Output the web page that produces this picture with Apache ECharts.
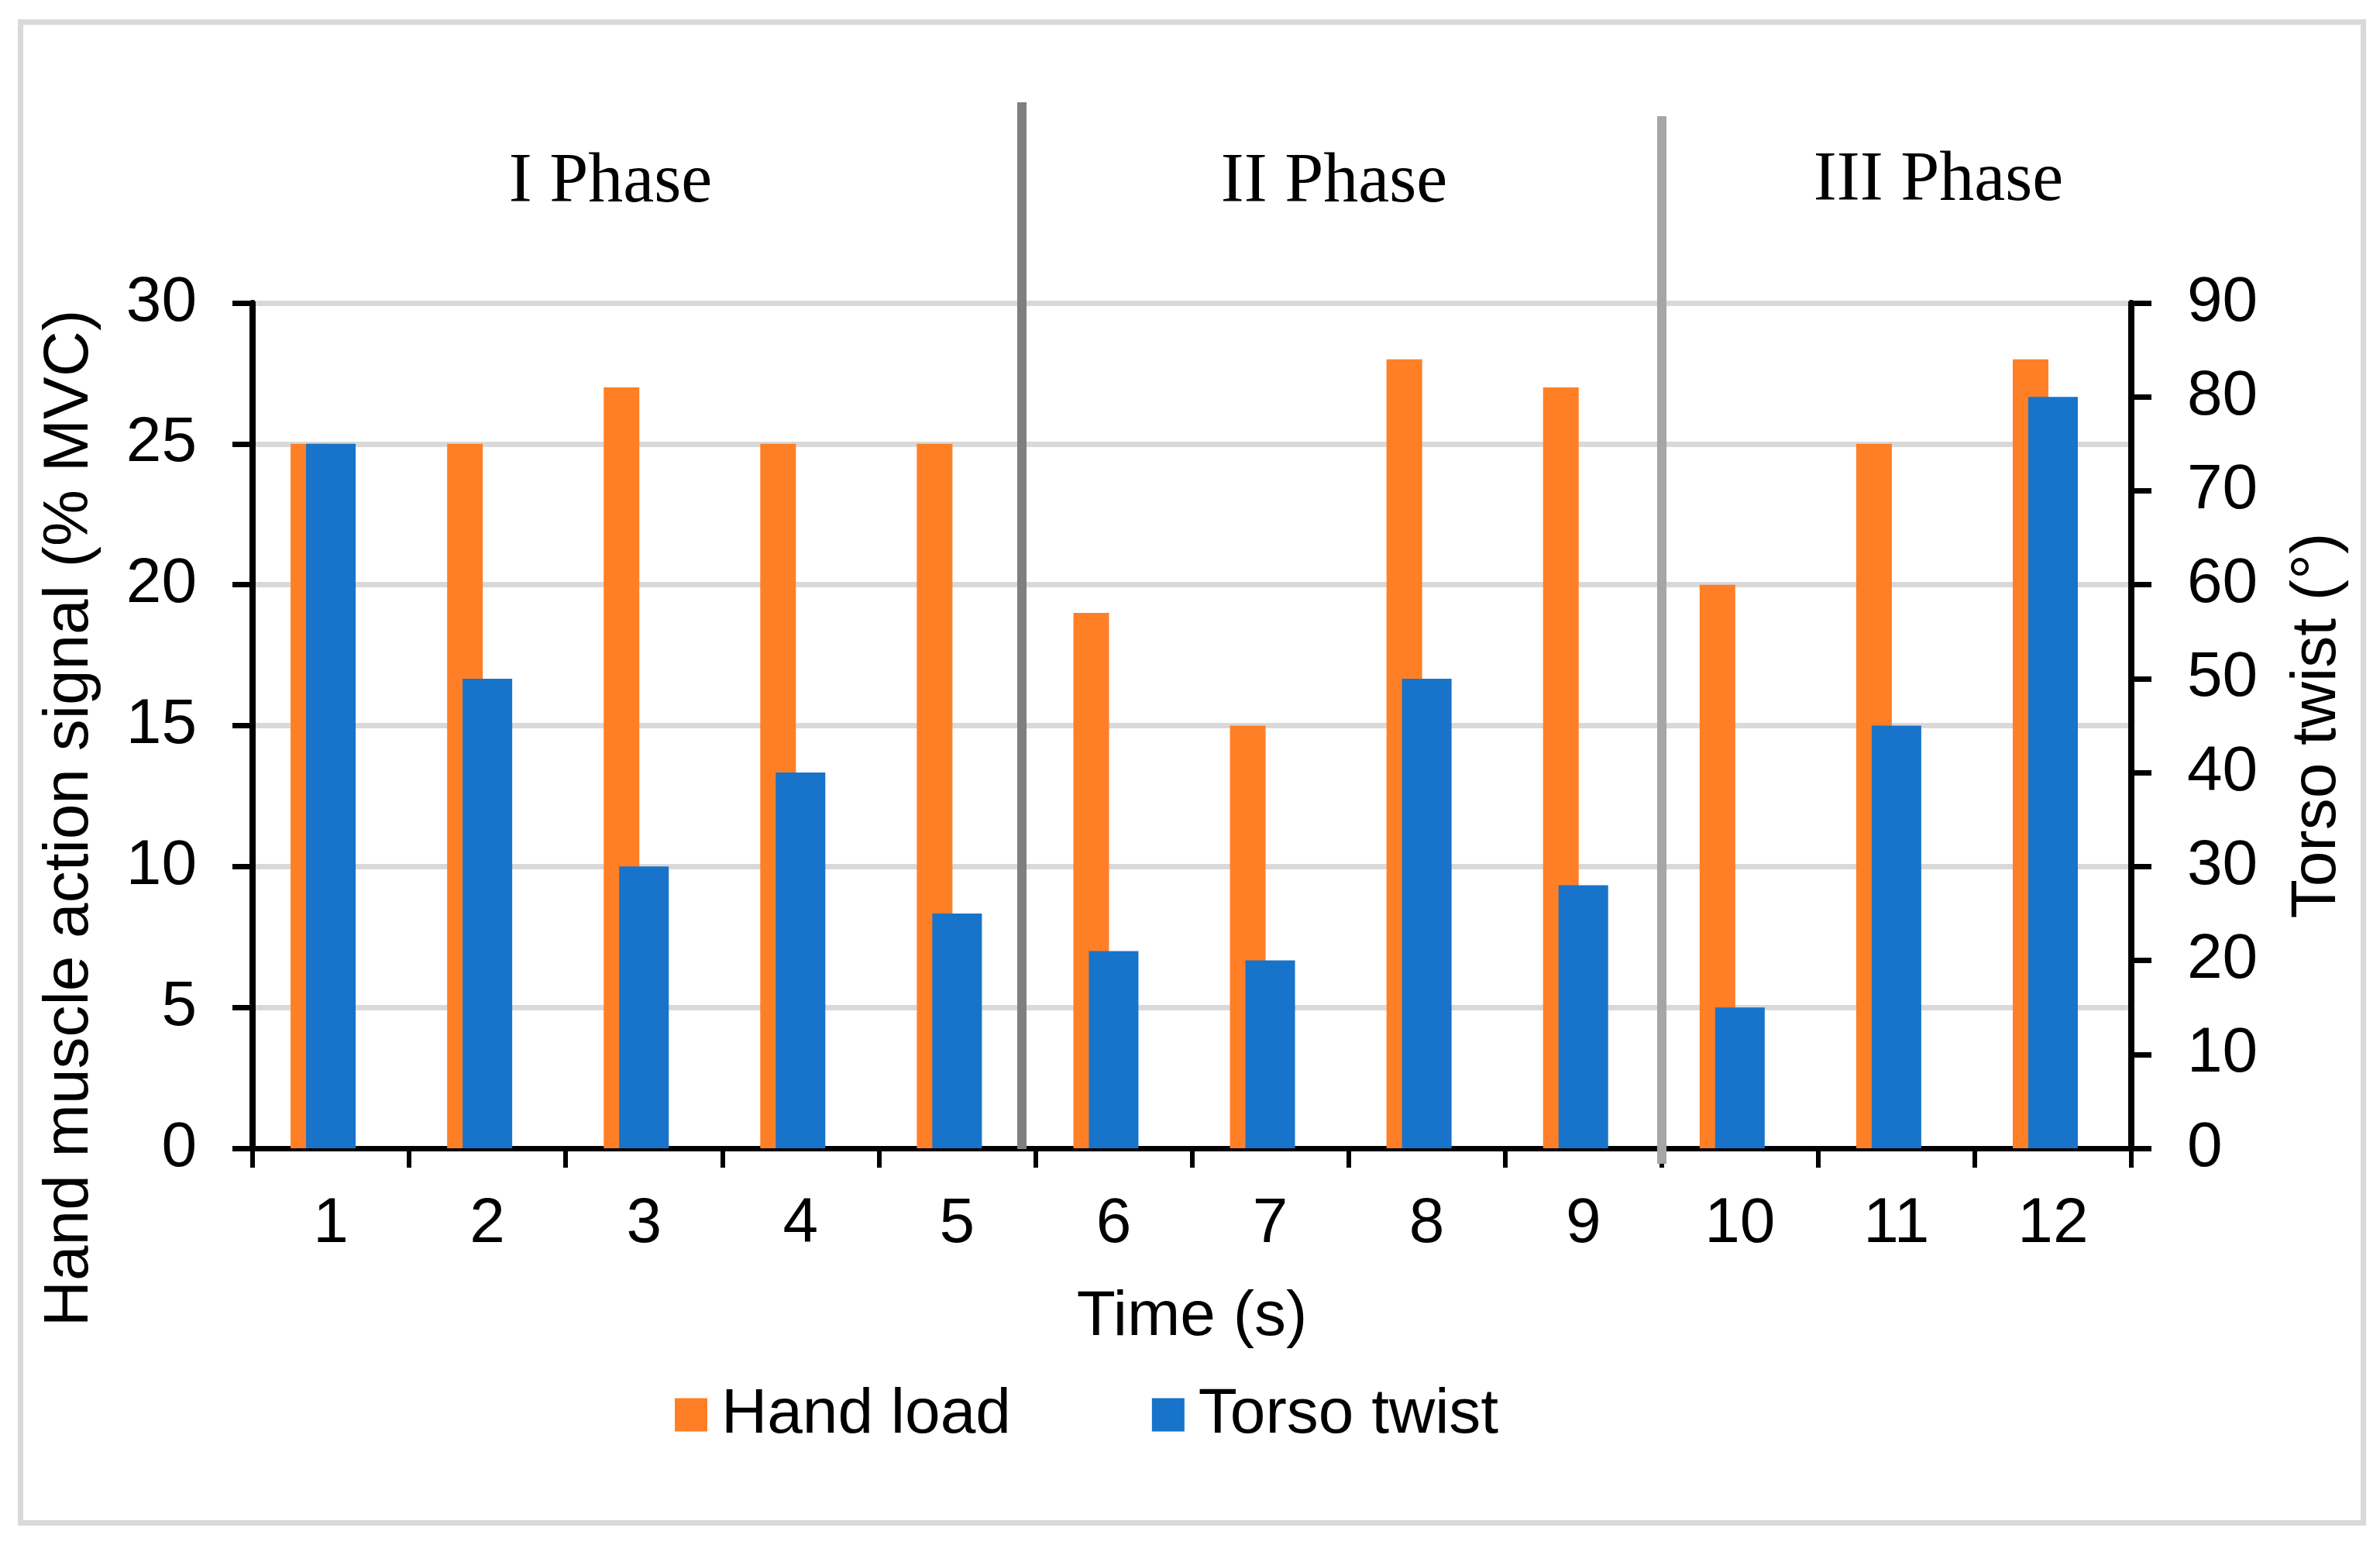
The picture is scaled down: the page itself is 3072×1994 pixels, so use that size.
<!DOCTYPE html>
<html>
<head>
<meta charset="utf-8">
<script src="https://cdn.jsdelivr.net/npm/echarts@6/dist/echarts.min.js"></script>
<style>
html,body{margin:0;padding:0;background:#ffffff;}
#chart{width:3072px;height:1994px;}
</style>
</head>
<body>
<div id="chart"></div>
<script>
// ---- data ----
const categories = ['1','2','3','4','5','6','7','8','9','10','11','12'];
const handLoad   = [25, 25, 27, 25, 25, 19, 15, 28, 27, 20, 25, 28];   // % MVC (left axis)
const torsoTwist = [75, 50, 30, 40, 25, 21, 20, 50, 28, 15, 45, 80];   // degrees (right axis)
const leftAxisMin = 0, leftAxisMax = 30, leftAxisStep = 5;
const rightAxisMin = 0, rightAxisMax = 90, rightAxisStep = 10;
const phaseLabels = ['I Phase', 'II Phase', 'III Phase'];
const seriesNames = ['Hand load', 'Torso twist'];
const axisTitles = { x: 'Time (s)', left: 'Hand muscle action signal (% MVC)', right: 'Torso twist (°)' };

// ---- layout / style ----
const SANS = "'Liberation Sans', Arial, Helvetica, sans-serif";
const SERIF = "'Liberation Serif', 'Times New Roman', serif";
const FS = 82;
const ORANGE = '#FF7F27';
const BLUE = '#1873CA';
const phaseX = [788, 1722, 2502];
const phaseY = [236, 236, 234];
const dividers = [
  { x: 1319, y1: 132, y2: 1483, color: '#7f7f7f' },
  { x: 2145, y1: 150, y2: 1502, color: '#a6a6a6' }
];

const chart = echarts.init(document.getElementById('chart'), null, { renderer: 'canvas' });

const axisLabelBase = { color: '#000', fontFamily: SANS, fontSize: FS, lineHeight: FS, margin: 72 };

const option = {
  backgroundColor: '#ffffff',
  animation: false,
  grid: { left: 326, right: 321, top: 391, bottom: 512, containLabel: false, outerBoundsMode: 'none' },
  legend: {
    data: seriesNames,
    left: 866,
    top: 1780,
    orient: 'horizontal',
    itemWidth: 42,
    itemHeight: 43,
    itemGap: 182,
    icon: 'rect',
    selectedMode: false,
    textStyle: { color: '#000', fontFamily: SANS, fontSize: FS, lineHeight: FS, padding: [0, 0, 0, 13] }
  },
  xAxis: [
    {
      type: 'category',
      data: categories,
      position: 'bottom',
      boundaryGap: true,
      axisLine: { show: true, lineStyle: { color: '#000', width: 7 } },
      axisTick: { show: true, length: 25, lineStyle: { color: '#000', width: 6 } },
      axisLabel: Object.assign({}, axisLabelBase, { margin: 57 }),
      splitLine: { show: false },
      name: axisTitles.x,
      nameLocation: 'middle',
      nameGap: 177,
      nameTextStyle: { color: '#000', fontFamily: SANS, fontSize: FS, lineHeight: FS }
    },
    {
      type: 'category',
      data: categories,
      position: 'bottom',
      show: false
    }
  ],
  yAxis: [
    {
      type: 'value',
      min: leftAxisMin, max: leftAxisMax, interval: leftAxisStep,
      position: 'left',
      axisLine: { show: true, lineStyle: { color: '#000', width: 8 } },
      axisTick: { show: true, length: 26, lineStyle: { color: '#000', width: 7 } },
      axisLabel: axisLabelBase,
      splitLine: { show: true, lineStyle: { color: '#d9d9d9', width: 7 } }
    },
    {
      type: 'value',
      min: rightAxisMin, max: rightAxisMax, interval: rightAxisStep,
      position: 'right',
      axisLine: { show: true, lineStyle: { color: '#000', width: 8 } },
      axisTick: { show: true, length: 26, lineStyle: { color: '#000', width: 7 } },
      axisLabel: axisLabelBase,
      splitLine: { show: false },
      name: axisTitles.right,
      nameLocation: 'middle',
      nameRotate: 90,
      nameGap: 199,
      nameTextStyle: { color: '#000', fontFamily: SANS, fontSize: FS, lineHeight: FS }
    }
  ],
  series: [
    {
      name: seriesNames[0],
      type: 'bar',
      xAxisIndex: 0, yAxisIndex: 0,
      data: handLoad,
      barWidth: 46,
      barGap: '26%',
      itemStyle: { color: ORANGE },
      emphasis: { disabled: true }
    },
    {
      name: '_spacer',
      type: 'bar',
      xAxisIndex: 0, yAxisIndex: 0,
      data: [],
      barWidth: 46,
      barGap: '26%',
      silent: true
    },
    {
      name: seriesNames[1],
      type: 'bar',
      xAxisIndex: 1, yAxisIndex: 1,
      data: torsoTwist,
      barWidth: 64,
      itemStyle: { color: BLUE },
      emphasis: { disabled: true }
    }
  ],
  graphic: [
    {
      type: 'rect', silent: true, z: 100,
      shape: { x: 26.5, y: 28.5, width: 3024, height: 1937 },
      style: { fill: 'none', stroke: '#d9d9d9', lineWidth: 7 }
    },
    ...dividers.map(d => ({
      type: 'line', silent: true, z: 50,
      shape: { x1: d.x, y1: d.y1, x2: d.x, y2: d.y2 },
      style: { stroke: d.color, lineWidth: 12 }
    })),
    ...phaseLabels.map((t, i) => ({
      type: 'text', silent: true, z: 60,
      x: phaseX[i], y: phaseY[i],
      style: { text: t, fontFamily: SERIF, fontSize: 90, fill: '#000', align: 'center', verticalAlign: 'middle' }
    })),
    {
      type: 'text', silent: true, z: 60,
      x: 90, y: 1056, rotation: Math.PI / 2,
      style: { text: axisTitles.left, fontFamily: SANS, fontSize: FS, fill: '#000', align: 'center', verticalAlign: 'middle' }
    }
  ]
};

chart.setOption(option);
</script>
</body>
</html>
